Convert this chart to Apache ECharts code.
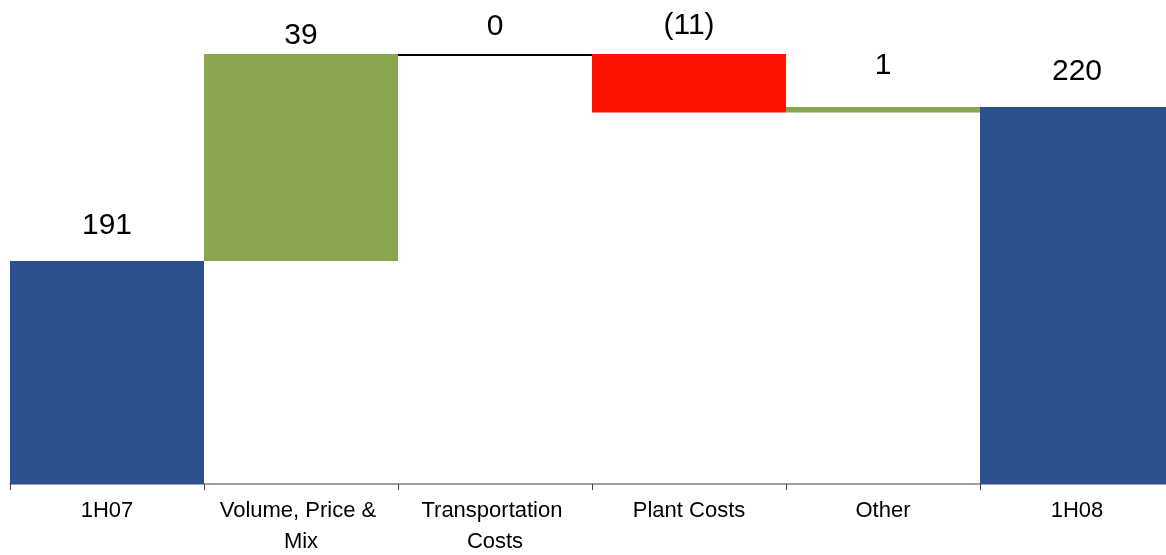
<!DOCTYPE html>
<html lang="en">
<head>
  <meta charset="UTF-8">
  <script src="https://cdn.jsdelivr.net/npm/echarts@6/dist/echarts.min.js"></script>
  <style>
    html, body { margin: 0; padding: 0; background: #fff; }
    #chart { width: 1166px; height: 555px; }
  </style>
</head>
<body>
  <div id="chart"></div>
  <script>
    // data
    const categories = ['1H07', 'Volume, Price & Mix', 'Transportation Costs', 'Plant Costs', 'Other', '1H08'];
    const values = [191, 39, 0, -11, 1, 220];
    const kinds = ['total', 'delta', 'delta', 'delta', 'delta', 'total'];

    // styling per bar (label lift above bar top, in px)
    const labelLift = [35, 18, 27, 28, 41, 35];
    const colors = { total: '#2d508f', up: '#8aa750', down: '#ff1300', zero: '#000000' };

    // build waterfall segments: [index, start, end]
    let running = 0;
    const segs = values.map((v, i) => {
      let start, end;
      if (kinds[i] === 'total') { start = 0; end = v; running = v; }
      else { start = running; end = running + v; running = end; }
      return [i, start, end];
    });

    function fmt(v) { return v < 0 ? '(' + Math.abs(v) + ')' : String(v); }

    function renderItem(params, api) {
      const i = api.value(0);
      const s = api.value(1), e = api.value(2);
      const w = api.size([1, 0])[0];
      const p1 = api.coord([i, s]);
      const p2 = api.coord([i, e]);
      const ymin = params.coordSys.y, ymax = params.coordSys.y + params.coordSys.height;
      const yA = Math.min(Math.max(p1[1], ymin), ymax);
      const yB = Math.min(Math.max(p2[1], ymin), ymax);
      const top = Math.min(yA, yB);
      const v = values[i];
      let fill;
      if (kinds[i] === 'total') fill = colors.total;
      else if (v > 0) fill = colors.up;
      else if (v < 0) fill = colors.down;
      const children = [];
      if (v === 0) {
        children.push({
          type: 'line',
          shape: { x1: p1[0] - w / 2, y1: top + 1, x2: p1[0] + w / 2, y2: top + 1 },
          style: { stroke: colors.zero, lineWidth: 2 }
        });
      } else {
        children.push({
          type: 'rect',
          shape: { x: p1[0] - w / 2, y: top, width: w, height: Math.abs(yA - yB) },
          style: { fill: fill }
        });
      }
      children.push({
        type: 'text',
        style: {
          text: fmt(v), x: p1[0], y: top - labelLift[i],
          align: 'center', verticalAlign: 'middle',
          fill: '#000', fontSize: 30, fontFamily: 'Liberation Sans, Arial, sans-serif'
        }
      });
      return { type: 'group', children: children };
    }

    var chart = echarts.init(document.getElementById('chart'));
    chart.setOption({
      animation: false,
      grid: { left: 10, right: -8, top: 54, bottom: 71, outerBoundsMode: 'none' },
      xAxis: {
        type: 'category',
        data: categories,
        boundaryGap: true,
        axisLine: { lineStyle: { color: '#808080', width: 1.5 } },
        axisTick: { show: true, length: 6, lineStyle: { color: '#404040' } },
        axisLabel: {
          interval: 0, color: '#000', fontSize: 22, lineHeight: 31, margin: 11,
          fontFamily: 'Liberation Sans, Arial, sans-serif',
          width: 180, overflow: 'break'
        }
      },
      yAxis: {
        type: 'value', min: 149, max: 230, show: false,
        splitLine: { show: false }
      },
      series: [{
        type: 'custom',
        renderItem: renderItem,
        encode: { x: 0, y: [1, 2] },
        data: segs
      }]
    });
  </script>
</body>
</html>
